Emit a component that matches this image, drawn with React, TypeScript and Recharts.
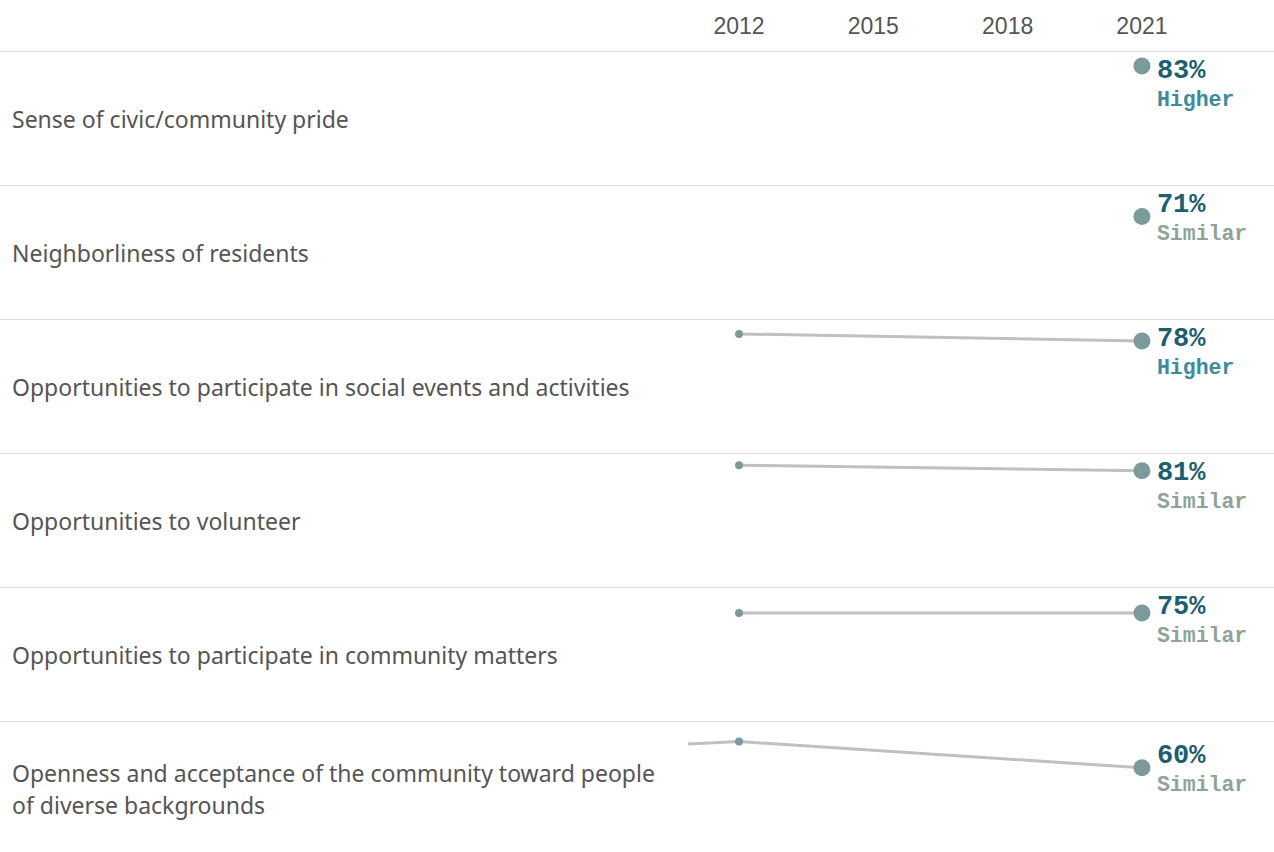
import React from 'react';
import { LineChart, Line, XAxis, YAxis } from 'recharts';

const categories = [
  'Sense of civic/community pride',
  'Neighborliness of residents',
  'Opportunities to participate in social events and activities',
  'Opportunities to volunteer',
  'Opportunities to participate in community matters',
  'Openness and acceptance of the community toward people of diverse backgrounds',
];
const values2010: (number | null)[] = [null, null, null, null, null, 76];
const values2012: (number | null)[] = [null, null, 83, 85, 75, 79];
const values2021: number[] = [83, 71, 78, 81, 75, 60];
const comparisons = ['Higher', 'Similar', 'Higher', 'Similar', 'Similar', 'Similar'];
const yearTicks = [2012, 2015, 2018, 2021];

const X_DOMAIN: [number, number] = [2010.86, 2023.95];
const Y_DOMAIN: [number, number] = [-2.9, 93.8];
const LEFT_W = 688;
const CHART_W = 586;
const HEADER_H = 51;
const ROW_H = 134;

const compColor: Record<string, string> = { Higher: '#3d8b9b', Similar: '#8fa396' };

function rowData(i: number) {
  const pts = [
    { year: 2010, value: values2010[i] },
    { year: 2012, value: values2012[i] },
    { year: 2021, value: values2021[i] },
  ];
  return pts.filter((p) => p.value !== null);
}

function makeDot(i: number) {
  return (props: any) => {
    const { cx, cy, payload, index } = props;
    if (cx == null || cy == null) return <g key={`d-${index}`} />;
    if (payload.year === 2021) {
      const y1 = Math.max(20, cy - 12);
      const y2 = y1 + 29;
      return (
        <g key={`d-${index}`}>
          <circle cx={cx} cy={cy} r={8.5} fill="#7b9a9c" />
          <text
            x={cx + 15}
            y={y1}
            dominantBaseline="central"
            fontFamily="'Courier New', 'Liberation Mono', monospace"
            fontWeight="bold"
            fontSize={27}
            fill="#1e5f6f"
          >
            {payload.value}%
          </text>
          <text
            x={cx + 15}
            y={y2}
            dominantBaseline="central"
            fontFamily="'Courier New', 'Liberation Mono', monospace"
            fontWeight="bold"
            fontSize={21.5}
            fill={compColor[comparisons[i]]}
          >
            {comparisons[i]}
          </text>
        </g>
      );
    }
    if (payload.year === 2012) {
      return <circle key={`d-${index}`} cx={cx} cy={cy} r={4} fill="#7b9a9c" />;
    }
    return <g key={`d-${index}`} />;
  };
}

const YearTick = (props: any) => {
  const { x, payload } = props;
  return (
    <text
      x={x}
      y={26}
      textAnchor="middle"
      dominantBaseline="central"
      fontFamily="'Liberation Sans', Arial, sans-serif"
      fontSize={23}
      fill="#555555"
    >
      {payload.value}
    </text>
  );
};

export default function App() {
  return (
    <div
      style={{
        position: 'absolute',
        left: 0,
        top: 0,
        width: 1274,
        height: 852,
        background: '#ffffff',
        overflow: 'hidden',
      }}
    >
      <div style={{ position: 'absolute', left: LEFT_W, top: 0 }}>
        <LineChart
          width={CHART_W}
          height={HEADER_H}
          data={rowData(0)}
          margin={{ top: 0, right: 0, bottom: 0, left: 0 }}
        >
          <XAxis
            dataKey="year"
            type="number"
            orientation="top"
            domain={X_DOMAIN}
            ticks={yearTicks}
            allowDataOverflow
            axisLine={false}
            tickLine={false}
            height={50}
            tick={<YearTick />}
          />
          <YAxis hide domain={Y_DOMAIN} />
        </LineChart>
      </div>
      {categories.map((cat, i) => {
        const top = HEADER_H + i * ROW_H;
        return (
          <React.Fragment key={cat}>
            <div
              style={{
                position: 'absolute',
                left: 0,
                top: top,
                width: 1274,
                height: 1,
                background: '#dcdcdc',
              }}
            />
            <div
              style={{
                position: 'absolute',
                left: 12,
                top: top + 1,
                width: 650,
                height: ROW_H,
                display: 'flex',
                alignItems: 'center',
                fontFamily: "'Noto Sans', sans-serif",
                fontSize: 23,
                lineHeight: '32px',
                color: '#555555',
              }}
            >
              <div>{cat}</div>
            </div>
            <div style={{ position: 'absolute', left: LEFT_W, top: top }}>
              <LineChart
                width={CHART_W}
                height={ROW_H}
                data={rowData(i)}
                margin={{ top: 0, right: 0, bottom: 0, left: 0 }}
              >
                <XAxis dataKey="year" type="number" domain={X_DOMAIN} allowDataOverflow hide />
                <YAxis hide domain={Y_DOMAIN} allowDataOverflow />
                <Line
                  type="linear"
                  dataKey="value"
                  stroke="#c0c0c0"
                  strokeWidth={3}
                  dot={makeDot(i)}
                  activeDot={false}
                  isAnimationActive={false}
                />
              </LineChart>
            </div>
          </React.Fragment>
        );
      })}
    </div>
  );
}
